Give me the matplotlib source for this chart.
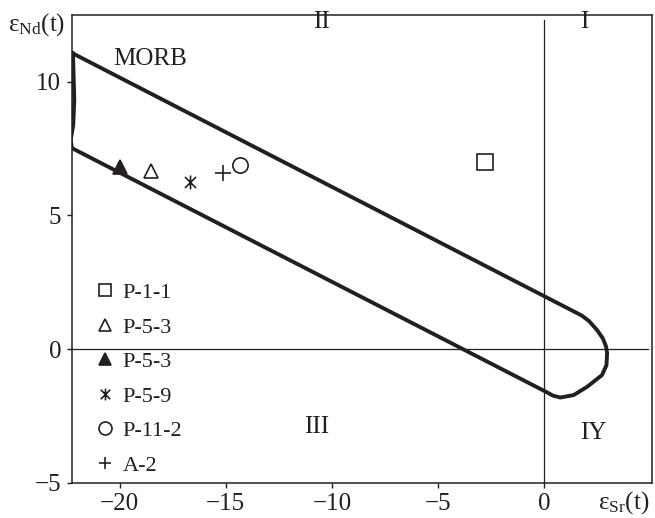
import numpy as np
import matplotlib
matplotlib.use("Agg")
import matplotlib.pyplot as plt
from matplotlib.path import Path

plt.rcParams['font.family'] = ['Liberation Serif', 'DejaVu Serif']
plt.rcParams['mathtext.fontset'] = 'custom'
plt.rcParams['mathtext.rm'] = 'Liberation Serif'
plt.rcParams['mathtext.it'] = 'Liberation Serif:italic'

ink = '#231f20'

# sample points (eSr(t), eNd(t))
names = ['P-1-1', 'P-5-3', 'P-5-3', 'P-5-9', 'P-11-2', 'A-2']
sr = [-2.8, -18.5, -20.0, -16.7, -14.35, -15.15]
nd = [7.0, 6.65, 6.8, 6.25, 6.9, 6.6]

# MORB field outline
field_x = [-22.19, 1.75, 2.10, 2.48, 2.75, 2.90, 2.95, 2.92, 2.71, 2.01, 1.37, 0.75, 0.40, 0.08,
           -22.24, -22.30, -22.18, -22.13, -22.19]
field_y = [11.06, 1.26, 1.05, 0.71, 0.40, 0.10, -0.16, -0.60, -0.97, -1.41, -1.72, -1.81, -1.74, -1.60,
           7.52, 7.82, 8.38, 9.32, 11.06]

# quadrant labels
quad_txt = ['II', 'I', 'III', 'IY', 'MORB']
quad_x = [-10.5, 1.88, -10.7, 2.28, -18.55]
quad_y = [12.25, 12.25, -2.92, -3.14, 10.85]

# asterisk marker: vertical bar + X
star = Path([(0, -1), (0, 1), (-0.8, -0.8), (0.8, 0.8), (-0.8, 0.8), (0.8, -0.8)],
            [Path.MOVETO, Path.LINETO, Path.MOVETO, Path.LINETO, Path.MOVETO, Path.LINETO])

styles = [
    dict(marker='s', mfc='none', ms=11),
    dict(marker='^', mfc='none', ms=10),
    dict(marker='^', mfc=ink, ms=10),
    dict(marker=star, mfc='none', ms=10),
    dict(marker='o', mfc='none', ms=11),
    dict(marker='+', mfc='none', ms=11),
]

fig = plt.figure(figsize=(6.55, 5.18), dpi=100)
ax = fig.add_axes([0.1095, 0.068, 0.8855, 0.903])

ax.axvline(0, ymax=0.99, color=ink, lw=0.9)
ax.axhline(0, xmax=0.994, color=ink, lw=0.9)

ax.plot(field_x, field_y, color=ink, lw=2.8, solid_joinstyle='round')

for i in range(len(names)):
    ax.plot(sr[i], nd[i], linestyle='none', mec=ink, mew=1.2, label=names[i], **styles[i])

for t, x, y in zip(quad_txt, quad_x, quad_y):
    ax.text(x, y, t, fontsize=18, color=ink, ha='center', va='center')

ax.set_xlim(-22.25, 5.05)
ax.set_ylim(-5, 12.5)
ax.set_xticks([-20, -15, -10, -5, 0])
ax.set_yticks([-5, 0, 5, 10])
ax.tick_params(direction='out', length=3.5, width=1.0, labelsize=18, colors=ink, pad=4)
for s in ax.spines.values():
    s.set_linewidth(1.1)
    s.set_color(ink)

ax.text(-0.06, 0.979, r'$\mathrm{\varepsilon_{Nd}(t)}$', transform=ax.transAxes,
        fontsize=18, color=ink, ha='center', va='center')
ax.text(0.952, -0.043, r'$\mathrm{\varepsilon_{Sr}(t)}$', transform=ax.transAxes,
        fontsize=18, color=ink, ha='center', va='center')

ax.legend(loc='lower left', bbox_to_anchor=(0.042, 0.015), frameon=False, fontsize=16,
          handlelength=0.8, handletextpad=0.4, labelspacing=0.63, borderpad=0,
          borderaxespad=0, markerscale=0.85, labelcolor=ink)

fig.savefig('out.png', dpi=100)
